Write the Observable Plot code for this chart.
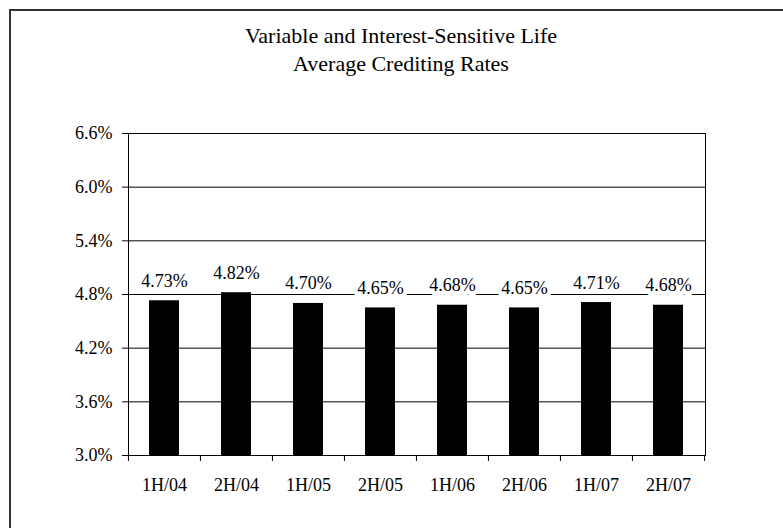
<!DOCTYPE html>
<html><head><meta charset="utf-8">
<script src="https://cdn.jsdelivr.net/npm/d3@7"></script>
<script src="https://cdn.jsdelivr.net/npm/@observablehq/plot@0.6"></script>
<style>
body{margin:0;background:#fff;}
#wrap{position:relative;width:783px;height:528px;overflow:hidden;font-family:"Liberation Serif","Times New Roman",serif;background:#fff;}
#chart{position:absolute;left:0;top:0;}
#border{position:absolute;left:9px;top:9px;right:-10px;bottom:-10px;border-top:2px solid #333;border-left:2px solid #333;pointer-events:none;}
#title{position:absolute;left:0;top:22px;width:802px;text-align:center;font-size:22px;line-height:28px;color:#000;}
</style></head><body>
<div id="wrap"><div id="chart"></div><div id="title"></div><div id="border"></div></div>
<script>
const titleLines = ["Variable and Interest-Sensitive Life", "Average Crediting Rates"];
const periods = ["1H/04", "2H/04", "1H/05", "2H/05", "1H/06", "2H/06", "1H/07", "2H/07"];
const rates = [4.73, 4.82, 4.70, 4.65, 4.68, 4.65, 4.71, 4.68];
const yTicks = [3.0, 3.6, 4.2, 4.8, 5.4, 6.0, 6.6];

document.getElementById("title").innerHTML = titleLines.map(t => `<div>${t}</div>`).join("");

const data = periods.map((p, i) => ({period: p, rate: rates[i]}));

const W = 783, H = 528, mL = 128, mR = 78, mT = 133, mB = 73;
const step = (W - mL - mR) / periods.length;
const yMin = yTicks[0], yMax = yTicks[yTicks.length - 1];

const chart = Plot.plot({
  width: W, height: H,
  marginLeft: mL, marginRight: mR, marginTop: mT, marginBottom: mB,
  style: {fontFamily: "'Liberation Serif', 'Times New Roman', serif", fontSize: "18px", color: "#000", background: "transparent", overflow: "visible"},
  x: {domain: periods, paddingInner: 0.58, paddingOuter: 0.29, label: null},
  y: {domain: [yMin, yMax], label: null},
  marks: [
    Plot.ruleY(yTicks, {stroke: "#000", strokeWidth: 1}),
    Plot.barY(data, {x: "period", y1: yMin, y2: "rate", fill: "#000"}),
    Plot.ruleX(periods, {x: d => d, y1: yMin, y2: yMin, insetBottom: -6, dx: -step / 2, stroke: "#000"}),
    Plot.ruleX([periods[periods.length - 1]], {x: d => d, y1: yMin, y2: yMin, insetBottom: -6, dx: step / 2, stroke: "#000"}),
    Plot.frame({stroke: "#000"}),
    Plot.axisY({ticks: yTicks, tickFormat: d => d.toFixed(1) + "%", tickSize: 6, tickPadding: 10, fontSize: 18}),
    Plot.axisX({tickSize: 0, tickPadding: 23, fontSize: 18}),
    Plot.text(data, {x: "period", y: "rate", text: d => d.rate.toFixed(2) + "%", dy: -14, lineAnchor: "bottom", fill: "#000", stroke: "#fff", strokeWidth: 9, strokeLinejoin: "round", fontSize: 18})
  ]
});
document.getElementById("chart").appendChild(chart);
</script>
</body></html>
